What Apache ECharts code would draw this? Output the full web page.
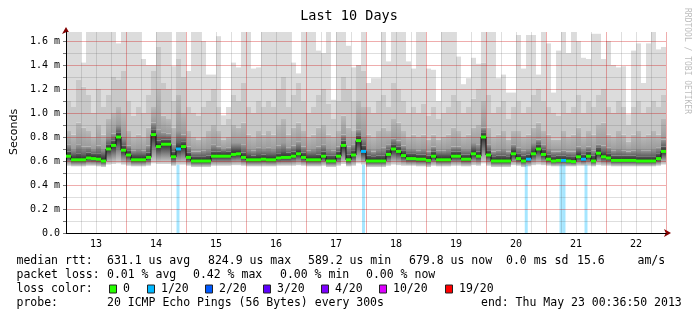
<!DOCTYPE html>
<html><head><meta charset="utf-8">
<script src="https://cdn.jsdelivr.net/npm/echarts@6/dist/echarts.min.js"></script>
<style>html,body{margin:0;padding:0;background:#fff}#c{width:697px;height:321px}</style>
</head><body><div id="c"></div>
<script>
// ---------------- data ----------------
const title = 'Last 10 Days';
const dayLabels = ['13','14','15','16','17','18','19','20','21','22'];
const yTickLabels = ['0.0','0.2 m','0.4 m','0.6 m','0.8 m','1.0 m','1.2 m','1.4 m','1.6 m'];

// median RTT (ms), one value per 2 hours starting May 13 00:00
const medianRtt = [
0.64,0.61,0.61,0.61,0.625,0.62,0.615,0.60,0.70,0.73,0.80,0.69,0.65,0.61,0.61,0.61,0.63,0.82,0.72,0.74,
0.74,0.635,0.70,0.72,0.63,0.60,0.60,0.60,0.60,0.64,0.64,0.64,0.64,0.655,0.66,0.63,0.61,0.61,0.61,0.615,
0.61,0.61,0.625,0.63,0.63,0.64,0.66,0.63,0.61,0.61,0.61,0.64,0.60,0.60,0.64,0.73,0.61,0.65,0.77,0.68,
0.60,0.60,0.60,0.60,0.655,0.70,0.68,0.645,0.62,0.62,0.615,0.615,0.605,0.64,0.61,0.61,0.61,0.64,0.64,0.615,
0.615,0.66,0.64,0.80,0.65,0.60,0.60,0.60,0.60,0.66,0.62,0.60,0.615,0.66,0.70,0.655,0.615,0.60,0.605,0.605,
0.60,0.595,0.635,0.615,0.64,0.60,0.665,0.635,0.625,0.605,0.605,0.605,0.605,0.605,0.60,0.60,0.60,0.60,0.62,0.68];

// lost pings (out of 20) per sample
const lossCount = [
0,0,0,0,0,0,0,0,0,0,0,0,0,0,0,0,0,0,0,0,
0,0,1,0,0,0,0,0,0,0,0,0,0,0,0,0,0,0,0,0,
0,0,0,0,0,0,0,0,0,0,0,0,0,0,0,0,0,0,0,1,
0,0,0,0,0,0,0,0,0,0,0,0,0,0,0,0,0,0,0,0,
0,0,0,0,0,0,0,0,0,0,0,0,1,0,0,0,0,0,0,1,
0,0,0,1,0,0,0,0,0,0,0,0,0,0,0,0,0,0,0,0];

// smoke: lowest ping
const smokeMin = [
0.56,0.555,0.555,0.555,0.56,0.56,0.555,0.55,0.57,0.575,0.58,0.57,0.56,0.555,0.555,0.555,0.56,0.58,0.575,0.575,
0.575,0.56,0.57,0.57,0.56,0.55,0.55,0.55,0.55,0.56,0.56,0.56,0.56,0.565,0.565,0.56,0.555,0.555,0.555,0.555,
0.555,0.555,0.56,0.56,0.56,0.56,0.565,0.56,0.555,0.555,0.555,0.56,0.55,0.55,0.56,0.575,0.555,0.56,0.58,0.57,
0.55,0.55,0.55,0.55,0.56,0.57,0.565,0.56,0.56,0.56,0.555,0.555,0.55,0.56,0.555,0.555,0.555,0.56,0.56,0.555,
0.555,0.565,0.56,0.58,0.56,0.55,0.55,0.55,0.55,0.565,0.56,0.55,0.555,0.565,0.57,0.565,0.56,0.555,0.555,0.555,
0.555,0.555,0.56,0.56,0.56,0.555,0.565,0.56,0.56,0.555,0.555,0.555,0.555,0.555,0.555,0.555,0.555,0.555,0.56,0.57];

// smoke: upper edge of the darkest band
const smokeP1 = [
0.68,0.65,0.66,0.65,0.67,0.66,0.66,0.65,0.74,0.77,0.84,0.73,0.69,0.65,0.65,0.65,0.67,0.86,0.77,0.78,
0.78,0.68,0.75,0.76,0.67,0.64,0.64,0.64,0.645,0.68,0.68,0.675,0.68,0.70,0.70,0.67,0.65,0.645,0.65,0.655,
0.65,0.65,0.665,0.675,0.67,0.68,0.70,0.67,0.65,0.65,0.655,0.68,0.645,0.645,0.68,0.77,0.655,0.69,0.81,0.73,
0.645,0.64,0.645,0.645,0.695,0.74,0.72,0.685,0.66,0.66,0.655,0.655,0.645,0.68,0.65,0.65,0.65,0.68,0.68,0.655,
0.655,0.70,0.68,0.84,0.69,0.64,0.645,0.645,0.64,0.70,0.66,0.645,0.655,0.70,0.74,0.695,0.655,0.64,0.645,0.645,
0.64,0.635,0.675,0.655,0.68,0.645,0.71,0.675,0.665,0.645,0.645,0.645,0.645,0.645,0.64,0.64,0.64,0.64,0.66,0.72];

// smoke: upper edge of the mid-dark band
const smokeP2 = [
0.74,0.70,0.74,0.72,0.72,0.70,0.73,0.70,0.80,0.83,0.90,0.80,0.73,0.69,0.70,0.69,0.73,0.92,0.86,0.84,
0.83,0.74,0.85,0.82,0.72,0.68,0.68,0.69,0.70,0.74,0.72,0.70,0.71,0.75,0.75,0.74,0.70,0.69,0.71,0.70,
0.71,0.70,0.73,0.75,0.71,0.73,0.76,0.72,0.69,0.70,0.72,0.74,0.70,0.69,0.72,0.82,0.72,0.74,0.86,0.80,
0.70,0.68,0.70,0.71,0.74,0.79,0.77,0.73,0.70,0.70,0.69,0.70,0.68,0.72,0.69,0.69,0.70,0.72,0.72,0.70,
0.70,0.75,0.74,0.88,0.74,0.68,0.69,0.70,0.68,0.74,0.71,0.69,0.70,0.75,0.78,0.74,0.70,0.68,0.68,0.69,
0.68,0.68,0.72,0.70,0.72,0.69,0.74,0.73,0.71,0.69,0.70,0.69,0.68,0.69,0.70,0.69,0.69,0.70,0.71,0.78];

// smoke: upper edge of the mid band
const smokeP3 = [
0.85,0.82,0.92,0.88,0.85,0.80,0.90,0.82,0.95,1.00,1.05,1.00,0.85,0.80,0.82,0.80,0.88,1.05,1.20,0.98,
0.95,0.88,1.15,1.00,0.85,0.80,0.78,0.80,0.85,0.90,0.85,0.78,0.80,0.90,0.88,0.92,0.82,0.80,0.85,0.82,
0.85,0.82,0.90,0.95,0.82,0.88,0.92,0.85,0.80,0.82,0.88,0.90,0.82,0.80,0.85,0.98,0.88,0.85,1.10,1.05,
0.82,0.80,0.85,0.88,0.85,0.95,0.92,0.85,0.80,0.82,0.80,0.82,0.78,0.82,0.78,0.80,0.82,0.88,0.85,0.80,
0.82,0.88,0.90,1.10,0.88,0.80,0.82,0.85,0.78,0.85,0.85,0.80,0.82,0.88,0.92,0.85,0.82,0.78,0.78,0.85,
0.80,0.82,0.88,0.80,0.85,0.82,0.90,0.92,0.82,0.80,0.85,0.82,0.76,0.82,0.85,0.80,0.82,0.85,0.82,0.95];

// smoke: upper edge of the light band
const smokeP4 = [
1.10,1.05,1.28,1.22,1.15,1.00,1.20,1.05,1.15,1.30,1.28,1.35,1.10,0.98,1.05,1.00,1.15,1.35,1.55,1.25,
1.20,1.10,1.45,1.30,1.05,1.00,0.98,1.05,1.10,1.20,1.05,0.90,0.95,1.15,1.10,1.25,1.05,1.00,1.10,1.05,
1.10,1.05,1.20,1.30,1.05,1.15,1.25,1.10,1.00,1.05,1.15,1.20,1.08,0.95,1.10,1.30,1.20,1.10,1.40,1.35,
1.05,1.00,1.10,1.15,1.05,1.25,1.20,1.10,1.00,1.05,1.00,1.08,0.98,1.05,0.95,1.00,1.05,1.15,1.10,1.00,
1.05,1.12,1.20,1.42,1.15,1.00,1.05,1.10,0.95,1.05,1.10,1.00,1.05,1.15,1.20,1.10,1.05,1.00,0.98,1.10,
1.00,1.05,1.15,1.00,1.10,1.05,1.15,1.20,1.05,1.00,1.10,1.05,0.90,1.05,1.10,1.00,1.05,1.10,1.05,1.15];

// smoke: highest ping (clipped at the top of the graph)
const smokeMax = [
1.68,1.68,1.68,1.42,1.68,1.68,1.68,1.68,1.68,1.68,1.58,1.68,1.68,1.68,1.68,1.45,1.40,1.40,1.68,1.68,
1.68,1.39,1.68,1.68,1.35,1.68,1.68,1.60,1.32,1.32,1.64,0.98,1.05,1.42,1.38,1.68,1.68,1.37,1.38,1.68,
1.68,1.68,1.68,1.68,1.68,1.42,1.33,1.68,1.68,1.68,1.52,1.50,1.68,1.11,1.68,1.68,1.56,1.38,1.37,1.68,
1.25,1.29,1.29,1.68,1.43,1.68,1.68,1.68,1.43,1.37,1.68,1.68,1.37,1.36,1.10,1.68,1.68,1.68,1.47,1.24,
1.29,1.46,1.41,1.68,1.68,1.68,1.29,1.32,1.17,1.17,1.65,1.37,1.65,1.65,1.32,1.68,1.58,1.17,1.52,1.68,
1.50,1.68,1.60,1.46,1.45,1.66,1.66,1.45,1.60,1.40,1.38,1.39,0.99,1.52,1.58,1.25,1.58,1.68,1.53,1.55];

// packet loss events (hours since May 13 00:00) and height of their bars (ms)
const lossEventHours = [44.8, 119.0, 184.1, 198.0, 199.2, 208.0];
const lossEventTop   = [0.57, 0.57, 0.57, 0.57, 0.57, 0.57];

const lossLegend = [['0','#26ff00'],['1/20','#00b8ff'],['2/20','#0059ff'],['3/20','#5e00ff'],['4/20','#7e00ff'],['10/20','#dd00ff'],['19/20','#ff0000']];
const lossThresholds = [0,1,2,3,4,10,19];

const statsLine1 = ['median rtt:','631.1 us avg','824.9 us max','589.2 us min','679.8 us now','0.0 ms sd','15.6','am/s'];
const statsLine2 = ['packet loss:','0.01 % avg','0.42 % max','0.00 % min','0.00 % now'];
const probeLine = ['probe:','20 ICMP Echo Pings (56 Bytes) every 300s','end: Thu May 23 00:36:50 2013'];

// ---------------- chart ----------------
const hrs = medianRtt.map((_, i) => 2 * i + 1);
function lossColor(n) {
  let c = lossLegend[0][1];
  for (let k = 0; k < lossThresholds.length; k++) if (n >= lossThresholds[k]) c = lossLegend[k][1];
  return c;
}
function band(upper, lower) {
  return upper.map((u, i) => Math.max(0, +(u - lower[i]).toFixed(4)));
}
function grad(top, mid, bottom) {
  const stops = [{offset: 0, color: top}];
  if (mid) stops.push({offset: 0.5, color: mid});
  stops.push({offset: 1, color: bottom});
  return {type: 'linear', x: 0, y: 0, x2: 0, y2: 1, colorStops: stops};
}
const MAJ = 'rgba(205,0,0,0.32)';
const MIN = 'rgba(90,90,90,0.2)';
const mono = '"DejaVu Sans Mono", monospace';

function smokeSeries(name, data, color) {
  return {name, type: 'bar', stack: 'smoke', xAxisIndex: 2, yAxisIndex: 0, barCategoryGap: '0%',
    data, itemStyle: {color}, silent: true, z: 2, emphasis: {disabled: true}};
}

const series = [
  smokeSeries('base', smokeMin.slice(), 'rgba(0,0,0,0)'),
  smokeSeries('low', band(medianRtt, smokeMin), grad('#2e2e2e', '#858585', '#d6d6d6')),
  smokeSeries('dark', band(smokeP1, medianRtt), grad('#5c5c5c', null, '#262626')),
  smokeSeries('mid1', band(smokeP2, smokeP1), grad('#9a9a9a', null, '#606060')),
  smokeSeries('mid2', band(smokeP3, smokeP2), grad('#b8b8b8', null, '#9c9c9c')),
  smokeSeries('light', band(smokeP4, smokeP3), '#c8c8c8'),
  smokeSeries('lightest', band(smokeMax, smokeP4), '#dcdcdc'),
  {name: 'loss', type: 'bar', xAxisIndex: 1, yAxisIndex: 0, barWidth: 3, silent: true, z: 2,
   data: lossEventHours.map((h, i) => [h, lossEventTop[i]]),
   itemStyle: {color: 'rgba(0,184,255,0.35)'}},
  {name: 'median', type: 'line', xAxisIndex: 0, yAxisIndex: 0, step: 'middle', z: 6, silent: true,
   symbol: 'rect', symbolSize: [5, 3], showSymbol: true, showAllSymbol: true,
   lineStyle: {color: '#111', width: 1},
   data: medianRtt.map((v, i) => ({value: [hrs[i], v], itemStyle: {color: lossColor(lossCount[i]), borderWidth: 0}})),
   emphasis: {disabled: true}}
];

const rowY = [261.5, 275.5, 289.5, 303.5];
const txt = (x, y, text, extra) => Object.assign({type: 'text', x, y, silent: true,
  style: Object.assign({text, fill: '#000', font: '11.5px ' + mono, align: 'left', verticalAlign: 'middle'}, extra || {})});

const graphic = [
  txt(349, 16, title, {font: '13.5px ' + mono, align: 'center'}),
  Object.assign(txt(14, 132, 'Seconds', {font: '11px "DejaVu Sans", sans-serif', align: 'center'}), {rotation: Math.PI / 2}),
  Object.assign(txt(687, 61, 'RRDTOOL / TOBI OETIKER', {font: '8px ' + mono, align: 'center', fill: '#bdbdbd'}), {rotation: -Math.PI / 2}),
];
const l1x = [16.5, 107, 208, 308, 409, 506, 577, 637.5];
statsLine1.forEach((s, i) => graphic.push(txt(l1x[i], rowY[0], s)));
const l2x = [16.5, 107, 193, 280, 366];
statsLine2.forEach((s, i) => graphic.push(txt(l2x[i], rowY[1], s)));
graphic.push(txt(16.5, rowY[2], 'loss color:'));
const swX = [109, 147, 205, 263, 321, 379, 445];
lossLegend.forEach((it, i) => {
  graphic.push({type: 'rect', silent: true, shape: {x: swX[i] + 0.5, y: rowY[2] - 4.5, width: 7, height: 8},
    style: {fill: it[1], stroke: '#222', lineWidth: 1}});
  graphic.push(txt(swX[i] + 14, rowY[2], it[0]));
});
const l4x = [16.5, 107, 481];
probeLine.forEach((s, i) => graphic.push(txt(l4x[i], rowY[3], s)));

const chart = echarts.init(document.getElementById('c'), null, {renderer: 'canvas'});
chart.setOption({
  animation: false,
  backgroundColor: '#fff',
  grid: {left: 66, right: 31, top: 32, bottom: 88, containLabel: false},
  xAxis: [
    {type: 'value', min: 0, max: 240, interval: 6, z: 3,
     axisLine: {show: true, onZero: false, lineStyle: {color: '#000', width: 1}},
     axisTick: {show: false},
     axisLabel: {color: '#000', fontFamily: 'DejaVu Sans Mono', fontSize: 10, margin: 6,
       formatter: v => (Math.round(v) % 24 === 12 ? dayLabels[(Math.round(v) - 12) / 24] : '')},
     splitLine: {show: true, lineStyle: {color: [MAJ, MIN, MIN, MIN], width: 1}}},
    {type: 'value', min: 0, max: 240, position: 'bottom', z: 1,
     axisLine: {show: true, onZero: false, lineStyle: {color: '#800000'}, symbol: ['none', 'arrow'], symbolSize: [6, 7], symbolOffset: [0, 5]},
     axisTick: {show: false}, axisLabel: {show: false}, splitLine: {show: false}},
    {type: 'category', data: hrs.map(String), boundaryGap: true, position: 'bottom', show: false}
  ],
  yAxis: [
    {type: 'value', min: 0, max: 1.675, interval: 0.1, z: 3,
     axisLine: {show: true, onZero: false, lineStyle: {color: '#000', width: 1}},
     axisTick: {show: true, length: 3, lineStyle: {color: '#777'}},
     axisLabel: {color: '#000', fontFamily: 'DejaVu Sans Mono', fontSize: 10, margin: 6, showMaxLabel: false,
       formatter: v => { const k = Math.round(v * 10); return (k % 2 === 0 && k <= 16) ? yTickLabels[k / 2] : ''; }},
     splitLine: {show: true, showMaxLine: false, lineStyle: {color: [MAJ, MIN], width: 1}}},
    {type: 'value', min: 0, max: 1.675, position: 'left', z: 1,
     axisLine: {show: true, onZero: false, lineStyle: {color: '#800000'}, symbol: ['none', 'arrow'], symbolSize: [6, 7], symbolOffset: [0, 5]},
     axisTick: {show: false}, axisLabel: {show: false}, splitLine: {show: false}}
  ],
  series,
  graphic
});
</script>
</body></html>
